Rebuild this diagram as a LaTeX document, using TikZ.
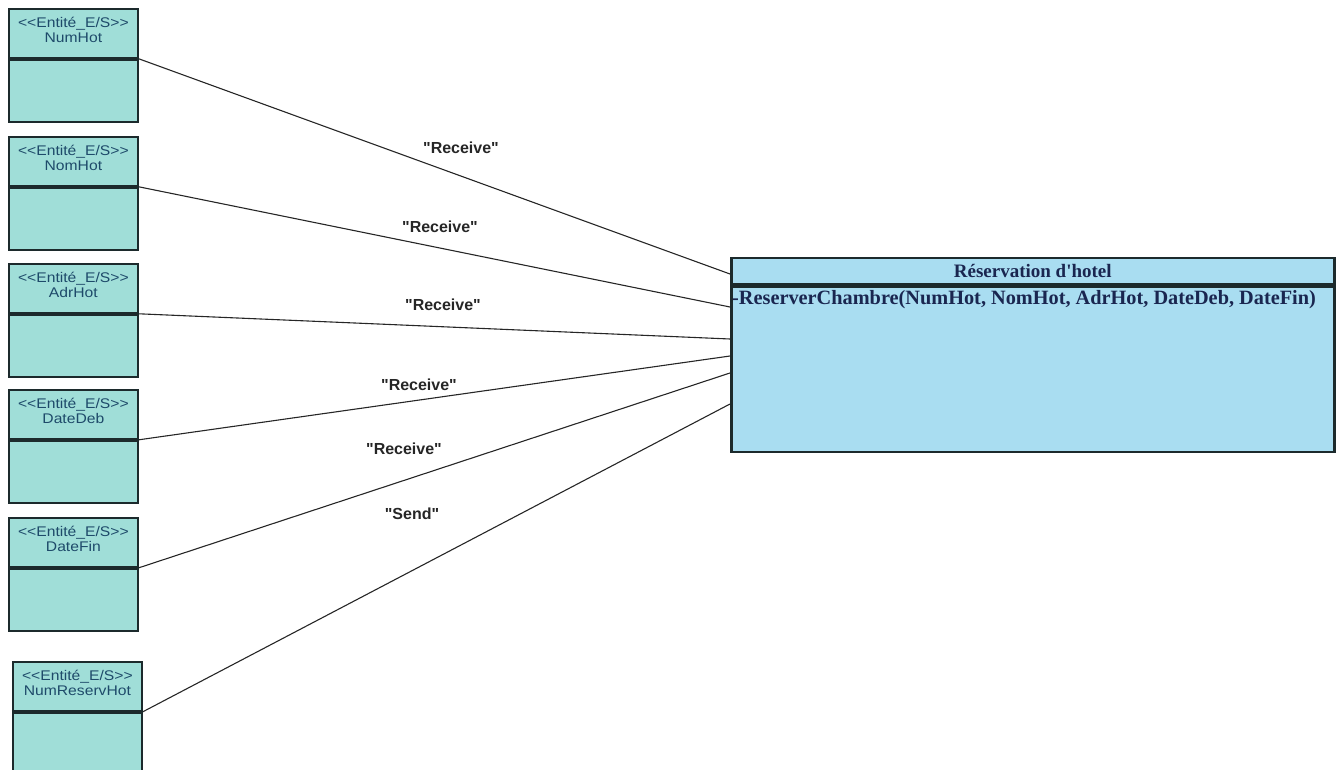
\documentclass[tikz,border=0pt]{standalone}
\usepackage{fontspec}
\newfontfamily\entfont{Liberation Sans}
\newfontfamily\clsfont{Liberation Serif}
\usetikzlibrary{calc}
\definecolor{entfill}{HTML}{A0DED8}
\definecolor{enttext}{HTML}{1E4A6A}
\definecolor{clsfill}{HTML}{A9DDF1}
\definecolor{clstext}{HTML}{1A2650}
\definecolor{bord}{HTML}{1C2A2C}
\tikzset{
  enthead/.style={draw=bord, line width=1.8pt, fill=entfill, minimum width=129pt, minimum height=49pt,
    anchor=north west, inner sep=0pt, align=center, text=enttext},
  enttxt/.style={inner sep=0pt, align=center, text=enttext,
    font=\entfont\fontsize{14}{15}\selectfont\addfontfeature{FakeStretch=1.12}},
  entbody/.style={draw=bord, line width=1.8pt, fill=entfill, minimum width=129pt, minimum height=62pt,
    anchor=north west, inner sep=0pt},
  clshead/.style={draw=bord, line width=2.5pt, fill=clsfill, minimum width=603pt, minimum height=26pt,
    anchor=north west, inner sep=0pt, text=clstext, font=\clsfont\bfseries\fontsize{19}{20}\selectfont},
  clsbody/.style={draw=bord, line width=2.5pt, fill=clsfill, minimum width=603pt, minimum height=165pt,
    anchor=north west, inner sep=0pt},
  conn/.style={line width=1.1pt, draw=black!85},
  lbl/.style={font=\entfont\bfseries\fontsize{16}{17}\selectfont, text=black!85}
}
\begin{document}
\begin{tikzpicture}[x=1pt,y=-1pt]
\useasboundingbox (0,0) rectangle (1342,770);
% left entities
\node[enthead] (h1) at (8,8) {};
\node[entbody] (b1) at (h1.south west) {};
\node[enttxt] (t1) at ($(h1.center)+(0,-3)$) {<<Entité\_E/S>>\\NumHot};
\node[enthead] (h2) at (8,136) {};
\node[entbody] (b2) at (h2.south west) {};
\node[enttxt] (t2) at ($(h2.center)+(0,-3)$) {<<Entité\_E/S>>\\NomHot};
\node[enthead] (h3) at (8,263) {};
\node[entbody] (b3) at (h3.south west) {};
\node[enttxt] (t3) at ($(h3.center)+(0,-3)$) {<<Entité\_E/S>>\\AdrHot};
\node[enthead] (h4) at (8,389) {};
\node[entbody] (b4) at (h4.south west) {};
\node[enttxt] (t4) at ($(h4.center)+(0,-3)$) {<<Entité\_E/S>>\\DateDeb};
\node[enthead] (h5) at (8,517) {};
\node[entbody] (b5) at (h5.south west) {};
\node[enttxt] (t5) at ($(h5.center)+(0,-3)$) {<<Entité\_E/S>>\\DateFin};
\node[enthead] (h6) at (12,661) {};
\node[entbody, minimum height=70pt] (b6) at (h6.south west) {};
\node[enttxt] (t6) at ($(h6.center)+(0,-3)$) {<<Entité\_E/S>>\\NumReservHot};
% class
\node[clshead] (ct) at (730,257) {Réservation d'hotel};
\node[clsbody] (cb) at (ct.south west) {};
\node[anchor=north west, inner sep=0pt, text=clstext, font=\clsfont\bfseries\fontsize{20.3}{21}\selectfont]
  (m) at ($(cb.north west)+(2,5)$) {-ReserverChambre(NumHot, NomHot, AdrHot, DateDeb, DateFin)};
% connector ends on class
\coordinate (e1) at ($(ct.north west)+(0,17)$);
\coordinate (e2) at ($(ct.north west)+(0,50)$);
\coordinate (e3) at ($(ct.north west)+(0,82)$);
\coordinate (e4) at ($(ct.north west)+(0,99)$);
\coordinate (e5) at ($(ct.north west)+(0,116)$);
\coordinate (e6) at ($(ct.north west)+(0,147)$);
\draw[conn] (h1.south east) -- (e1);
\draw[conn] (h2.south east) -- (e2);
\draw[conn] (h3.south east) -- (e3);
\draw[conn] (h4.south east) -- (e4);
\draw[conn] (h5.south east) -- (e5);
\draw[conn] (h6.south east) -- (e6);
% labels
\node[lbl] (l1) at (461,148) {"Receive"};
\node[lbl] (l2) at (440,227) {"Receive"};
\node[lbl] (l3) at (443,305) {"Receive"};
\node[lbl] (l4) at (419,385) {"Receive"};
\node[lbl] (l5) at (404,449) {"Receive"};
\node[lbl] (l6) at (412,514) {"Send"};
\end{tikzpicture}
\end{document}
